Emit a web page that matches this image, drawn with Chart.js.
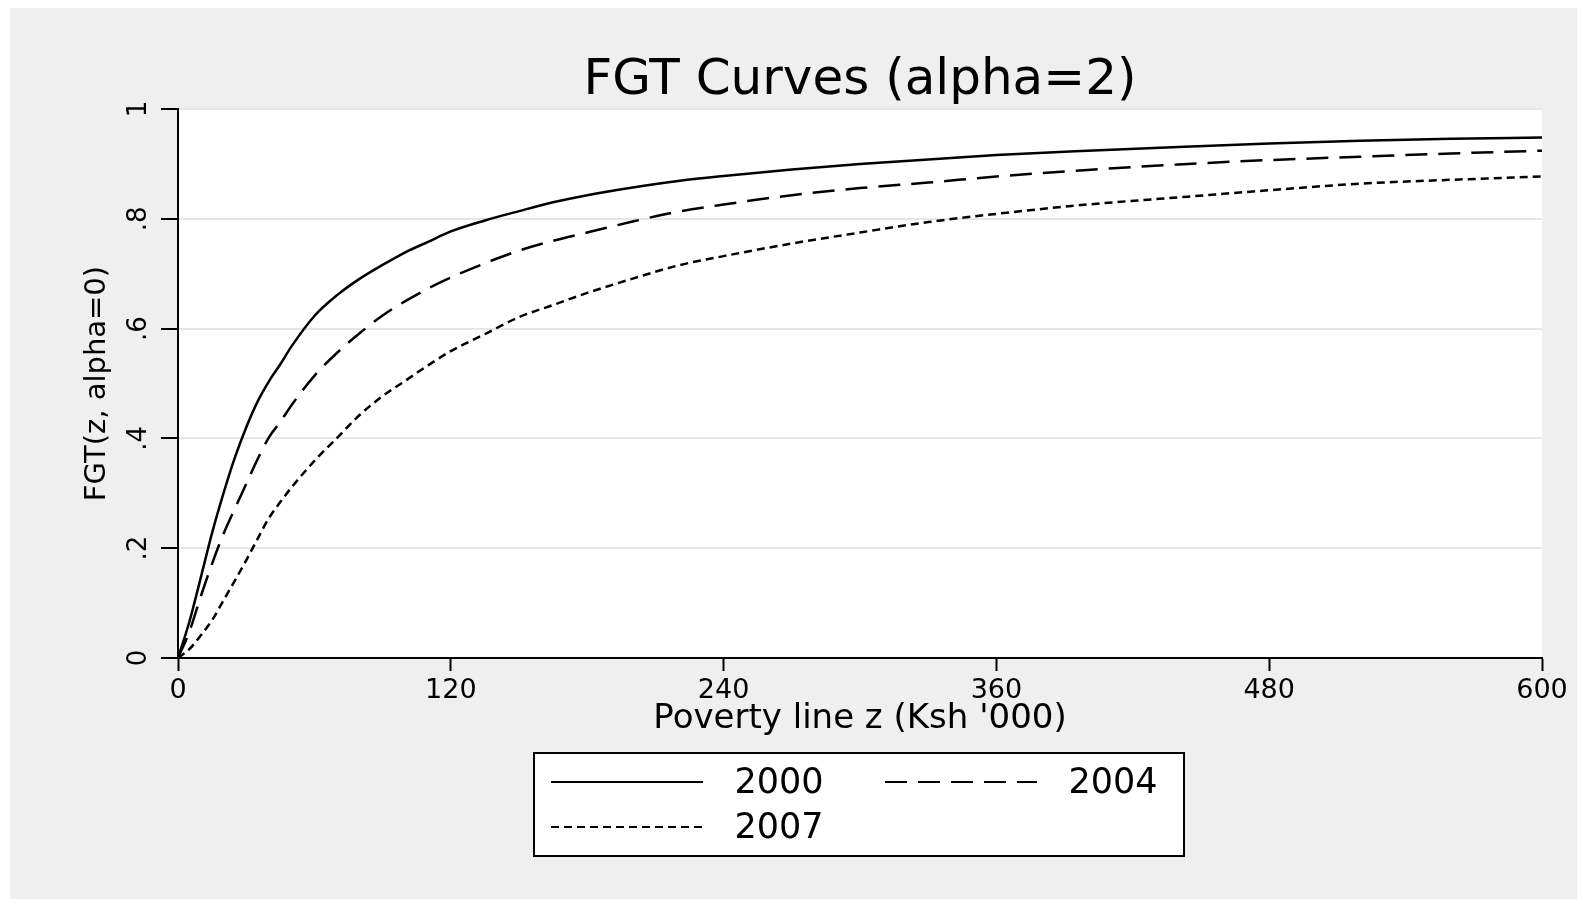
<!DOCTYPE html>
<html lang="en">
<head>
<meta charset="UTF-8">
<title>FGT Curves (alpha=2)</title>
<script src="https://cdn.jsdelivr.net/npm/chart.js"></script>
<style>
  html, body { margin: 0; padding: 0; background: #fff; }
  canvas { display: block; }
</style>
</head>
<body>
<canvas id="fgtChart" width="1587" height="908"></canvas>
<script>
  // poverty line z (Ksh '000) and FGT values
  const zValues = [0, 5, 10, 15, 20, 25, 30, 35, 40, 45, 50, 60, 70, 80, 90, 100, 110, 120, 135, 150,
                   165, 180, 200, 220, 240, 270, 300, 330, 360, 400, 440, 480, 520, 560, 600];
  const fgt2000 = [0, 0.066, 0.146, 0.228, 0.300, 0.365, 0.420, 0.467, 0.504, 0.535, 0.568, 0.623, 0.661, 0.691, 0.716, 0.739, 0.758, 0.777, 0.797, 0.814,
                   0.830, 0.843, 0.857, 0.869, 0.878, 0.890, 0.900, 0.908, 0.916, 0.924, 0.931, 0.937, 0.942, 0.946, 0.948];
  const fgt2004 = [0, 0.048, 0.112, 0.172, 0.226, 0.272, 0.317, 0.362, 0.402, 0.430, 0.461, 0.514, 0.556, 0.592, 0.624, 0.650, 0.673, 0.693, 0.719, 0.742,
                   0.760, 0.775, 0.795, 0.813, 0.826, 0.843, 0.856, 0.866, 0.877, 0.889, 0.899, 0.907, 0.913, 0.919, 0.924];
  const fgt2007 = [0, 0.016, 0.041, 0.069, 0.105, 0.141, 0.178, 0.217, 0.255, 0.284, 0.311, 0.359, 0.401, 0.443, 0.477, 0.505, 0.533, 0.559, 0.590, 0.621,
                   0.643, 0.665, 0.691, 0.715, 0.732, 0.755, 0.775, 0.794, 0.809, 0.826, 0.839, 0.852, 0.864, 0.871, 0.877];

  const seriesLabels = ['2000', '2004', '2007'];
  const xTickValues = [0, 120, 240, 360, 480, 600];
  const yTickValues = [0, 0.2, 0.4, 0.6, 0.8, 1];
  const yTickLabels = ['0', '.2', '.4', '.6', '.8', '1'];

  const FONT = 'DejaVu Sans';

  function toPoints(values) {
    return zValues.map((z, i) => ({ x: z, y: values[i] }));
  }

  // grey frame around everything, white plot region
  const backgroundPlugin = {
    id: 'stataBackground',
    beforeDraw(chart) {
      const { ctx, chartArea: a } = chart;
      ctx.save();
      ctx.fillStyle = '#efefef';
      ctx.fillRect(10, 8, 1567, 891);
      ctx.fillStyle = '#fff';
      ctx.fillRect(a.left, a.top, a.right - a.left, a.bottom - a.top);
      ctx.restore();
    }
  };

  // boxed legend below the x title (2 columns)
  const boxLegendPlugin = {
    id: 'boxLegend',
    afterDraw(chart) {
      const ctx = chart.ctx;
      const slots = [{ x: 551, y: 782 }, { x: 885, y: 782 }, { x: 551, y: 827 }];
      ctx.save();
      ctx.fillStyle = '#fff';
      ctx.strokeStyle = '#000';
      ctx.lineWidth = 2;
      ctx.fillRect(534, 753, 650, 103);
      ctx.strokeRect(534, 753, 650, 103);
      ctx.font = '35px "' + FONT + '"';
      ctx.textBaseline = 'alphabetic';
      chart.data.datasets.forEach((ds, i) => {
        const s = slots[i];
        ctx.beginPath();
        ctx.setLineDash(ds.borderDash || []);
        ctx.lineWidth = 2.2;
        ctx.moveTo(s.x, s.y);
        ctx.lineTo(s.x + 152, s.y);
        ctx.stroke();
        ctx.setLineDash([]);
        ctx.fillStyle = '#000';
        ctx.fillText(ds.label, s.x + 183.5, s.y + 11);
      });
      ctx.restore();
    }
  };

  new Chart(document.getElementById('fgtChart'), {
    type: 'line',
    data: {
      datasets: [
        { label: seriesLabels[0], data: toPoints(fgt2000), borderDash: [] },
        { label: seriesLabels[1], data: toPoints(fgt2004), borderDash: [22, 11] },
        { label: seriesLabels[2], data: toPoints(fgt2007), borderDash: [8, 5] }
      ]
    },
    options: {
      responsive: false,
      animation: false,
      devicePixelRatio: 1,
      layout: { padding: { left: 10, right: 45, top: 0, bottom: 168.7 } },
      elements: {
        point: { radius: 0 },
        line: { borderColor: '#000', borderWidth: 2.5, cubicInterpolationMode: 'monotone', fill: false }
      },
      plugins: {
        legend: { display: false },
        tooltip: { enabled: false },
        title: {
          display: true,
          fullSize: false,
          text: 'FGT Curves (alpha=2)',
          color: '#000',
          font: { family: FONT, size: 50, weight: 'normal', lineHeight: 1 },
          padding: { top: 55.9, bottom: 3.1 }
        }
      },
      scales: {
        x: {
          type: 'linear',
          min: 0,
          max: 600,
          afterBuildTicks: scale => { scale.ticks = xTickValues.map(v => ({ value: v })); },
          ticks: { color: '#000', font: { family: FONT, size: 27 }, padding: 3.5, maxRotation: 0, autoSkip: false },
          grid: { drawOnChartArea: false, tickLength: 13, tickColor: '#000', tickWidth: 2 },
          border: { color: '#000', width: 2 },
          title: {
            display: true,
            text: "Poverty line z (Ksh '000)",
            color: '#000',
            font: { family: FONT, size: 34 },
            padding: { top: 0, bottom: 0 }
          },
          afterFit: scale => { scale.height = 81.3; }
        },
        y: {
          type: 'linear',
          min: 0,
          max: 1,
          afterBuildTicks: scale => { scale.ticks = yTickValues.map(v => ({ value: v })); },
          ticks: {
            color: '#000',
            font: { family: FONT, size: 26 },
            minRotation: 90,
            maxRotation: 90,
            crossAlign: 'center',
            padding: 9.6,
            autoSkip: false,
            callback: (value, index) => yTickLabels[index]
          },
          grid: {
            color: c => (c.tick && c.tick.value === 0) ? 'rgba(0,0,0,0)' : '#e6e6e6',
            lineWidth: 2,
            tickLength: 17,
            tickColor: '#000',
            tickWidth: 2
          },
          border: { color: '#000', width: 2 },
          title: {
            display: true,
            text: 'FGT(z, alpha=0)',
            color: '#000',
            font: { family: FONT, size: 29 },
            padding: { top: 70.2, bottom: 0 }
          },
          afterFit: scale => { scale.width = 168; }
        }
      }
    },
    plugins: [backgroundPlugin, boxLegendPlugin]
  });
</script>
</body>
</html>
